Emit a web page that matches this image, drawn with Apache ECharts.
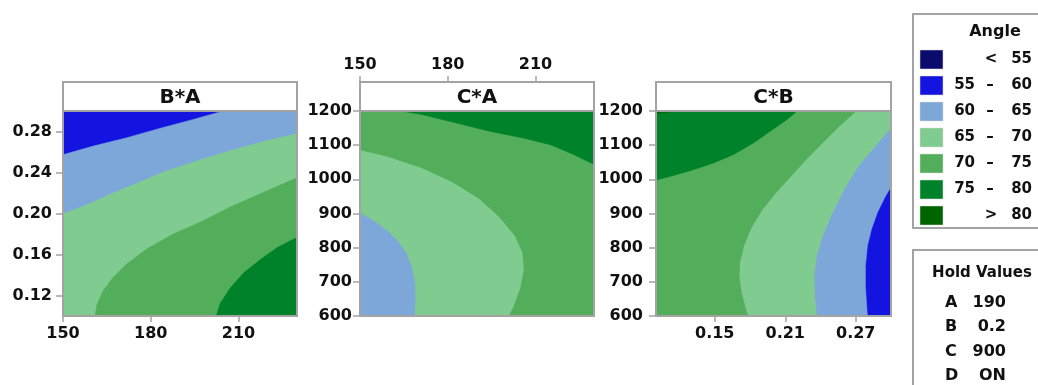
<!DOCTYPE html>
<html>
<head>
<meta charset="utf-8">
<script src="https://cdn.jsdelivr.net/npm/echarts@6/dist/echarts.min.js"></script>
<style>
  html, body { margin: 0; padding: 0; background: #ffffff; }
  #chart { width: 1038px; height: 385px; }
</style>
</head>
<body>
<div id="chart"></div>
<script>
// Angle band boundaries and fill colours (band i spans levels[i-1]..levels[i])
const angleLevels = [55, 60, 65, 70, 75, 80];
const bandColors = ['#0b0b6e', '#1414e0', '#7da7d9', '#80cc90', '#52ae5b', '#00822a', '#006400'];

// Factor ranges
const rangeA = [150, 230];
const rangeB = [0.10, 0.30];
const rangeC = [600, 1200];

// Tick labels
const ticksA = [150, 180, 210];
const ticksB_BA = [0.12, 0.16, 0.20, 0.24, 0.28];
const ticksB_CB = [0.15, 0.21, 0.27];
const ticksC = [600, 700, 800, 900, 1000, 1100, 1200];

// Contour lines of Angle, points are [x, y] in factor units
// B*A (x = A, y = B)
const baLine60 = [[150, 0.2573], [160.1, 0.2655], [171.6, 0.2737], [183.1, 0.2830], [194.6, 0.2918], [204.9, 0.30]];
const baLine65 = [[150, 0.1997], [157.8, 0.2079], [165.9, 0.2184], [175.1, 0.2293], [185.4, 0.2415], [196.9, 0.2523], [208.4, 0.2622], [219.9, 0.2711], [230, 0.2777]];
const baLine70 = [[161.0, 0.10], [161.6, 0.1109], [163.6, 0.1240], [167.0, 0.1372], [171.6, 0.1503], [178.5, 0.1651], [187.7, 0.1799], [196.9, 0.1915], [207.2, 0.2063], [217.6, 0.2194], [230, 0.2349]];
const baLine75 = [[202.4, 0.10], [203.8, 0.1125], [207.2, 0.1273], [211.8, 0.1421], [217.6, 0.1553], [223.3, 0.1668], [230, 0.1767]];

// C*A (x = A, y = C)
const caLine65 = [[150, 904], [154.9, 879], [159.5, 850], [163.0, 820], [165.9, 785.5], [167.8, 746], [169.0, 696.7], [169.1, 647.4], [168.8, 600]];
const caLine70 = [[150, 1086.5], [159.5, 1066.8], [171.1, 1034.2], [181.5, 992.7], [190.8, 943.4], [197.8, 889.1], [203.0, 834.9], [205.6, 785.5], [206.1, 736.2], [204.9, 681.9], [202.6, 627.6], [201.0, 600]];
const caLine75 = [[164.1, 1200], [171.1, 1190], [182.7, 1165.4], [194.3, 1140.8], [205.9, 1121], [215.1, 1101.3], [222.1, 1076.6], [230, 1044]];

// C*B (x = B, y = C)
const cbLine60 = [[0.30, 978], [0.2949, 948.3], [0.2885, 904], [0.2834, 854.6], [0.2799, 805.3], [0.2782, 746], [0.2782, 686.8], [0.2793, 627.6], [0.2799, 600]];
const cbLine65 = [[0.30, 1150.6], [0.2862, 1096.4], [0.2719, 1037.2], [0.2604, 973], [0.2503, 904], [0.2417, 834.9], [0.2365, 775.6], [0.2345, 716.4], [0.2351, 657.2], [0.2365, 600]];
const cbLine70 = [[0.2704, 1200], [0.2575, 1160.5], [0.2431, 1111.2], [0.2288, 1061.8], [0.2144, 1007.6], [0.2015, 958.2], [0.1900, 908.9], [0.1813, 859.5], [0.1747, 805.3], [0.1713, 755.9], [0.1707, 716.4], [0.1727, 667.1], [0.1765, 617.8], [0.1785, 600]];
const cbLine75 = [[0.10, 997.7], [0.1138, 1010.5], [0.1310, 1027.3], [0.1483, 1047], [0.1655, 1071.7], [0.1828, 1106.2], [0.1971, 1140.8], [0.2115, 1175.3], [0.2201, 1200]];
const cbLine80 = [[0.10, 1193], [0.1109, 1197], [0.1210, 1200]];

// Hold values
const holdFactors = ['A', 'B', 'C', 'D'];
const holdValues = ['190', '0.2', '900', 'ON'];

// ---------------------------------------------------------------
const FONT = 'DejaVu Sans';
const TEXT = '#111111';
const FRAME = '#a3a3a3';

const headerTop = 82;
const plotTop = 111;
const plotHeight = 205;
const boxes = [
  { left: 63, width: 234 },
  { left: 360, width: 234 },
  { left: 656, width: 235 }
];

// Each panel: lowest band level present, then contour lines with the
// plot corners that close the higher-valued side of each line.
const panels = [
  { title: 'B*A', xr: rangeA, yr: rangeB, base: 55,
    contours: [[60, baLine60, ['tr', 'br', 'bl']], [65, baLine65, ['br', 'bl']], [70, baLine70, ['br']], [75, baLine75, ['br']]] },
  { title: 'C*A', xr: rangeA, yr: rangeC, base: 60,
    contours: [[65, caLine65, ['br', 'tr', 'tl']], [70, caLine70, ['br', 'tr', 'tl']], [75, caLine75, ['tr']]] },
  { title: 'C*B', xr: rangeB, yr: rangeC, base: 55,
    contours: [[60, cbLine60, ['bl', 'tl', 'tr']], [65, cbLine65, ['bl', 'tl', 'tr']], [70, cbLine70, ['bl', 'tl']], [75, cbLine75, ['tl']], [80, cbLine80, ['tl']]] }
];

function bandIndexFromLower(level) {
  return angleLevels.indexOf(level) + 1;
}

function buildPolygons(p) {
  const [x0, x1] = p.xr, [y0, y1] = p.yr;
  const corner = { tl: [x0, y1], tr: [x1, y1], bl: [x0, y0], br: [x1, y0] };
  const polys = [{ pts: [corner.bl, corner.br, corner.tr, corner.tl], color: bandColors[bandIndexFromLower(p.base)] }];
  p.contours.forEach(([lvl, line, close]) => {
    polys.push({ pts: line.concat(close.map(k => corner[k])), color: bandColors[bandIndexFromLower(lvl)] });
  });
  return polys;
}

const labelStyle = { color: TEXT, fontFamily: FONT, fontSize: 16, fontWeight: 'bold' };
const lineStyle = { color: FRAME, width: 2 };
const tickStyle = { color: FRAME, width: 1.5 };

function valueAxis(range, ticks, fmt, extra) {
  return Object.assign({
    type: 'value', min: range[0], max: range[1],
    axisLine: { show: true, onZero: false, lineStyle: lineStyle },
    axisTick: { show: true, length: 6, lineStyle: tickStyle, customValues: ticks },
    axisLabel: Object.assign({ customValues: ticks, formatter: fmt }, labelStyle),
    splitLine: { show: false }
  }, extra || {});
}

const fmtInt = v => String(Math.round(v));
const fmt2 = v => v.toFixed(2);

const grids = boxes.map(b => ({ left: b.left, top: plotTop, width: b.width, height: plotHeight }));

const xAxes = [
  valueAxis(rangeA, ticksA, fmtInt, { gridIndex: 0, position: 'bottom', axisLabel: Object.assign({ customValues: ticksA, formatter: fmtInt, margin: 10 }, labelStyle) }),
  valueAxis(rangeA, [], fmtInt, { gridIndex: 1, position: 'bottom', axisTick: { show: false }, axisLabel: { show: false } }),
  valueAxis(rangeA, ticksA, fmtInt, { gridIndex: 1, position: 'top', offset: plotTop - headerTop, axisLabel: Object.assign({ customValues: ticksA, formatter: fmtInt, margin: 9 }, labelStyle) }),
  valueAxis(rangeB, ticksB_CB, fmt2, { gridIndex: 2, position: 'bottom', axisLabel: Object.assign({ customValues: ticksB_CB, formatter: fmt2, margin: 10 }, labelStyle) })
];

const yAxes = [
  valueAxis(rangeB, ticksB_BA, fmt2, { gridIndex: 0, axisTick: { show: true, length: 7, lineStyle: tickStyle, customValues: ticksB_BA }, axisLabel: Object.assign({ customValues: ticksB_BA, formatter: fmt2, margin: 11 }, labelStyle) }),
  valueAxis(rangeC, ticksC, fmtInt, { gridIndex: 1, axisTick: { show: true, length: 7, lineStyle: tickStyle, customValues: ticksC }, axisLabel: Object.assign({ customValues: ticksC, formatter: fmtInt, margin: 8 }, labelStyle) }),
  valueAxis(rangeC, ticksC, fmtInt, { gridIndex: 2, axisTick: { show: true, length: 7, lineStyle: tickStyle, customValues: ticksC }, axisLabel: Object.assign({ customValues: ticksC, formatter: fmtInt, margin: 13 }, labelStyle) })
];

const seriesAxis = [[0, 0], [1, 1], [3, 2]];
const series = panels.map((p, i) => {
  const polys = buildPolygons(p);
  return {
    type: 'custom',
    xAxisIndex: seriesAxis[i][0],
    yAxisIndex: seriesAxis[i][1],
    silent: true,
    clip: true,
    data: polys.map((poly, k) => [p.xr[0], p.yr[0], k]),
    renderItem: (params, api) => {
      const poly = polys[api.value(2)];
      return {
        type: 'polygon',
        shape: { points: poly.pts.map(pt => api.coord(pt)) },
        style: { fill: poly.color, stroke: poly.color, lineWidth: 0.6 }
      };
    }
  };
});

// Panel frames and header strips
const graphics = [];
boxes.forEach((b, i) => {
  graphics.push({
    type: 'rect', z: 50,
    shape: { x: b.left, y: headerTop, width: b.width, height: plotTop - headerTop },
    style: { fill: '#ffffff', stroke: FRAME, lineWidth: 2 }
  });
  graphics.push({
    type: 'rect', z: 50,
    shape: { x: b.left, y: plotTop, width: b.width, height: plotHeight },
    style: { fill: 'none', stroke: FRAME, lineWidth: 2 }
  });
  graphics.push({
    type: 'text', z: 60,
    x: b.left + b.width / 2, y: (headerTop + plotTop) / 2 + 1,
    style: { text: panels[i].title, fill: TEXT, font: 'bold 20px "' + FONT + '"', textAlign: 'center', textVerticalAlign: 'middle' }
  });
});

// Angle legend
const legTop = 14, legLeft = 913, rowTop = 50, rowStep = 26, swH = 19;
const boldFont = size => 'bold ' + size + 'px "' + FONT + '"';
graphics.push({
  type: 'rect', z: 50,
  shape: { x: legLeft, y: legTop, width: 140, height: 214 },
  style: { fill: '#ffffff', stroke: FRAME, lineWidth: 2 }
});
graphics.push({
  type: 'text', z: 60, x: 995, y: 32,
  style: { text: 'Angle', fill: TEXT, font: boldFont(16), textAlign: 'center', textVerticalAlign: 'middle' }
});
bandColors.forEach((c, i) => {
  const y = rowTop + i * rowStep;
  graphics.push({
    type: 'rect', z: 55,
    shape: { x: 920, y: y, width: 23, height: swH },
    style: { fill: c, stroke: '#d8d8d8', lineWidth: 0.5 }
  });
  const cy = y + swH / 2;
  const txt = (s, x, align) => graphics.push({
    type: 'text', z: 60, x: x, y: cy,
    style: { text: s, fill: TEXT, font: boldFont(15), textAlign: align, textVerticalAlign: 'middle' }
  });
  if (i === 0) {
    txt('<', 991, 'center');
    txt(String(angleLevels[0]), 1032, 'right');
  } else if (i === bandColors.length - 1) {
    txt('>', 991, 'center');
    txt(String(angleLevels[angleLevels.length - 1]), 1032, 'right');
  } else {
    txt(String(angleLevels[i - 1]), 975, 'right');
    txt('\u2013', 990, 'center');
    txt(String(angleLevels[i]), 1032, 'right');
  }
});

// Hold values box
graphics.push({
  type: 'rect', z: 50,
  shape: { x: 913, y: 250, width: 140, height: 150 },
  style: { fill: '#ffffff', stroke: FRAME, lineWidth: 2 }
});
graphics.push({
  type: 'text', z: 60, x: 982, y: 273,
  style: { text: 'Hold Values', fill: TEXT, font: boldFont(15), textAlign: 'center', textVerticalAlign: 'middle' }
});
holdFactors.forEach((f, i) => {
  const y = 303 + i * 24.3;
  graphics.push({
    type: 'text', z: 60, x: 945, y: y,
    style: { text: f, fill: TEXT, font: boldFont(16), textAlign: 'left', textVerticalAlign: 'middle' }
  });
  graphics.push({
    type: 'text', z: 60, x: 1006, y: y,
    style: { text: holdValues[i], fill: TEXT, font: boldFont(16), textAlign: 'right', textVerticalAlign: 'middle' }
  });
});

const chart = echarts.init(document.getElementById('chart'), null, { renderer: 'canvas' });
chart.setOption({
  animation: false,
  backgroundColor: '#ffffff',
  grid: grids,
  xAxis: xAxes,
  yAxis: yAxes,
  series: series,
  graphic: graphics
});
</script>
</body>
</html>
